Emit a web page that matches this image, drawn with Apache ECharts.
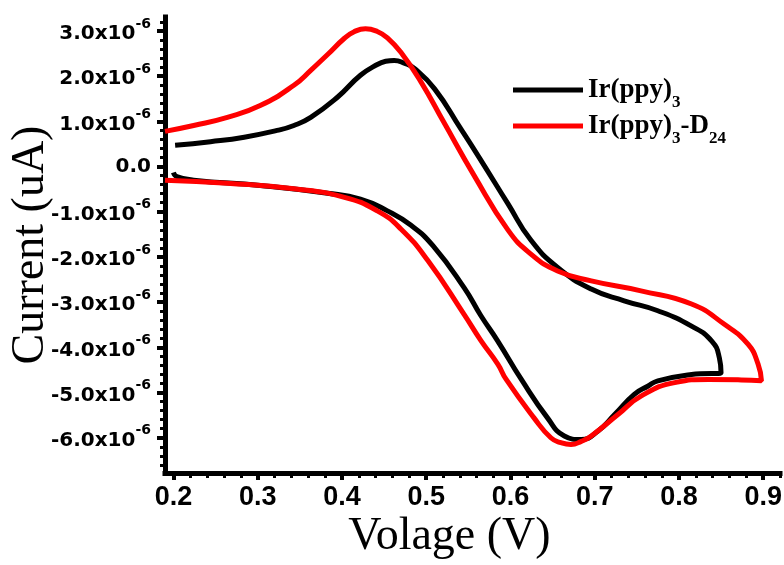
<!DOCTYPE html>
<html>
<head>
<meta charset="utf-8">
<script src="https://cdn.jsdelivr.net/npm/echarts@6/dist/echarts.min.js"></script>
<style>
  html, body { margin: 0; padding: 0; background: #ffffff; }
  #chart { width: 784px; height: 565px; }
</style>
</head>
<body>
<div id="chart"></div>
<script>
// Cyclic voltammograms; current values are in units of 1e-6 A.
// Each trace runs from the 0.2 V start, out to the switching potential and back.
const seriesNames = ['Ir(ppy)3', 'Ir(ppy)3-D24'];

const voltageIr = [
  0.202, 0.244, 0.284, 0.323, 0.343, 0.363, 0.395, 0.422, 0.442, 0.452, 0.462, 0.474, 0.486, 0.510, 0.541, 0.563,
  0.597, 0.624, 0.656, 0.696, 0.735, 0.775, 0.815, 0.839, 0.848, 0.850,
  0.815, 0.775, 0.763, 0.747, 0.724, 0.704, 0.684, 0.664, 0.644, 0.613, 0.585, 0.565, 0.545, 0.508, 0.482,
  0.454, 0.422, 0.383, 0.303, 0.224, 0.204, 0.200
];
const currentIr = [
  0.47, 0.55, 0.65, 0.80, 0.91, 1.09, 1.54, 2.02, 2.26, 2.33, 2.35, 2.29, 2.17, 1.72, 0.84, 0.20,
  -0.82, -1.62, -2.23, -2.71, -2.97, -3.19, -3.53, -3.86, -4.23, -4.56,
  -4.60, -4.74, -4.86, -5.04, -5.48, -5.85, -6.04, -5.96, -5.56, -4.71, -3.86, -3.30, -2.68, -1.75, -1.30,
  -0.98, -0.72, -0.59, -0.42, -0.30, -0.22, -0.13
];

const voltageIrD24 = [
  0.190, 0.224, 0.264, 0.303, 0.343, 0.363, 0.383, 0.403, 0.414, 0.428, 0.442, 0.454, 0.470, 0.494, 0.521,
  0.557, 0.597, 0.624, 0.656, 0.696, 0.755, 0.815, 0.854, 0.882, 0.894, 0.898,
  0.874, 0.835, 0.795, 0.755, 0.728, 0.696, 0.684, 0.672, 0.660, 0.648, 0.628, 0.595, 0.585, 0.565,
  0.545, 0.502, 0.470, 0.442, 0.403, 0.343, 0.264, 0.190
];
const currentIrD24 = [
  0.78, 0.91, 1.09, 1.35, 1.80, 2.13, 2.48, 2.84, 2.98, 3.05, 2.99, 2.85, 2.53, 1.87, 0.98,
  -0.20, -1.40, -1.93, -2.31, -2.53, -2.75, -3.04, -3.49, -3.93, -4.37, -4.74,
  -4.72, -4.71, -4.78, -5.08, -5.48, -5.96, -6.08, -6.15, -6.11, -6.00, -5.56, -4.71, -4.37, -3.85,
  -3.27, -2.08, -1.38, -0.98, -0.68, -0.49, -0.37, -0.30
];

const seriesColors = ['#000000', '#ff0000'];

const xTickValues = [0.2, 0.3, 0.4, 0.5, 0.6, 0.7, 0.8, 0.9];
const xMinorTickValues = [
  0.22, 0.24, 0.26, 0.28, 0.32, 0.34, 0.36, 0.38, 0.42, 0.44, 0.46, 0.48,
  0.52, 0.54, 0.56, 0.58, 0.62, 0.64, 0.66, 0.68, 0.72, 0.74, 0.76, 0.78,
  0.82, 0.84, 0.86, 0.88, 0.92
];
const yTickValues = [-6, -5, -4, -3, -2, -1, 0, 1, 2, 3];
const yMinorTickValues = [
  -6.6, -6.4, -6.2, -5.8, -5.6, -5.4, -5.2, -4.8, -4.6, -4.4, -4.2,
  -3.8, -3.6, -3.4, -3.2, -2.8, -2.6, -2.4, -2.2, -1.8, -1.6, -1.4, -1.2,
  -0.8, -0.6, -0.4, -0.2, 0.2, 0.4, 0.6, 0.8, 1.2, 1.4, 1.6, 1.8,
  2.2, 2.4, 2.6, 2.8, 3.2
];

const xRange = [0.19, 0.92];
const yRange = [-6.78, 3.31];

function zip(xs, ys) {
  return xs.map((x, i) => [x, ys[i]]);
}

const axisLineStyle = { color: '#000', width: 5, cap: 'square' };

const legendRich = {
  b: {
    fontFamily: '"Liberation Serif", "Times New Roman", serif',
    fontWeight: 'bold', fontSize: 27, color: '#000',
    lineHeight: 30, padding: [6, 0, 6, 0]
  },
  s: {
    fontFamily: '"Liberation Serif", "Times New Roman", serif',
    fontWeight: 'bold', fontSize: 17, color: '#000',
    lineHeight: 17, padding: [25, 0, 0, 0]
  }
};

function legendLabel(name) {
  if (name === seriesNames[0]) return '{b|Ir(ppy)}{s|3}';
  return '{b|Ir(ppy)}{s|3}{b|-D}{s|24}';
}

const yLabelRich = {
  m: {
    fontFamily: '"DejaVu Sans", sans-serif', fontWeight: 'bold', fontSize: 20,
    color: '#000', lineHeight: 22, padding: [7, 0, 1, 0]
  },
  p: {
    fontFamily: '"DejaVu Sans", sans-serif', fontWeight: 'bold', fontSize: 14,
    color: '#000', lineHeight: 14, padding: [1, 0, 15, 0]
  },
  z: {
    fontFamily: '"DejaVu Sans", sans-serif', fontWeight: 'bold', fontSize: 20,
    color: '#000', lineHeight: 22
  }
};

const chart = echarts.init(document.getElementById('chart'), null, { renderer: 'canvas' });

chart.setOption({
  animation: false,
  backgroundColor: '#ffffff',
  grid: { left: 165, right: 4, top: 17, bottom: 92, containLabel: false, outerBoundsMode: 'none' },
  legend: [
    {
      data: [seriesNames[0]],
      left: 508, top: 64,
      icon: 'rect', itemWidth: 70, itemHeight: 5,
      formatter: legendLabel,
      textStyle: { rich: legendRich }
    },
    {
      data: [seriesNames[1]],
      left: 508, top: 100,
      icon: 'rect', itemWidth: 70, itemHeight: 5,
      formatter: legendLabel,
      textStyle: { rich: legendRich }
    }
  ],
  xAxis: [
    {
      type: 'value', min: xRange[0], max: xRange[1],
      position: 'bottom',
      name: 'Volage (V)', nameLocation: 'middle', nameGap: 41, nameMoveOverlap: false,
      nameTextStyle: {
        fontFamily: '"Liberation Serif", "Times New Roman", serif',
        fontSize: 46, color: '#000', padding: [0, 46, 0, 0]
      },
      splitLine: { show: false },
      axisLine: { show: true, onZero: false, lineStyle: axisLineStyle },
      axisTick: { show: true, customValues: xTickValues, length: 7, lineStyle: { color: '#000', width: 4 } },
      axisLabel: {
        customValues: xTickValues, margin: 11,
        fontFamily: '"Liberation Sans Narrow", "Liberation Sans", Arial, sans-serif',
        fontWeight: 'bold', fontSize: 27, color: '#000',
        formatter: v => v.toFixed(1)
      }
    },
    {
      type: 'value', min: xRange[0], max: xRange[1],
      position: 'bottom',
      splitLine: { show: false },
      axisLine: { show: false, onZero: false },
      axisTick: { show: true, customValues: xMinorTickValues, length: 5, lineStyle: { color: '#000', width: 3 } },
      axisLabel: { show: false }
    }
  ],
  yAxis: [
    {
      type: 'value', min: yRange[0], max: yRange[1],
      position: 'left',
      name: 'Current (uA)', nameLocation: 'middle', nameGap: 111, nameMoveOverlap: false,
      nameTextStyle: {
        fontFamily: '"Liberation Serif", "Times New Roman", serif',
        fontSize: 46, color: '#000'
      },
      splitLine: { show: false },
      axisLine: { show: true, onZero: false, lineStyle: axisLineStyle },
      axisTick: { show: true, customValues: yTickValues, length: 8, lineStyle: { color: '#000', width: 4 } },
      axisLabel: {
        customValues: yTickValues, margin: 14,
        formatter: v => (v === 0 ? '{z|0.0}' : '{m|' + v.toFixed(1) + 'x10}{p|-6}'),
        rich: yLabelRich
      }
    },
    {
      type: 'value', min: yRange[0], max: yRange[1],
      position: 'left',
      splitLine: { show: false },
      axisLine: { show: false, onZero: false },
      axisTick: { show: true, customValues: yMinorTickValues, length: 5, lineStyle: { color: '#000', width: 3 } },
      axisLabel: { show: false }
    }
  ],
  series: [
    {
      name: seriesNames[0], type: 'line',
      xAxisIndex: 0, yAxisIndex: 0,
      data: zip(voltageIr, currentIr),
      showSymbol: false, smooth: 0.5,
      lineStyle: { color: seriesColors[0], width: 5 },
      itemStyle: { color: seriesColors[0] },
      z: 2
    },
    {
      name: seriesNames[1], type: 'line',
      xAxisIndex: 0, yAxisIndex: 0,
      data: zip(voltageIrD24, currentIrD24),
      showSymbol: false, smooth: 0.5,
      lineStyle: { color: seriesColors[1], width: 5 },
      itemStyle: { color: seriesColors[1] },
      z: 3
    }
  ]
});
</script>
</body>
</html>
